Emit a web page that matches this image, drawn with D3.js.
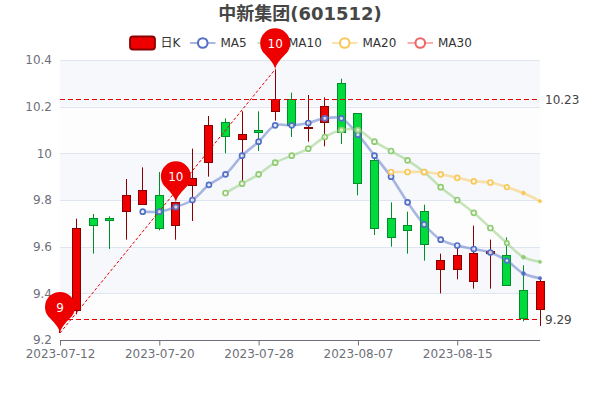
<!DOCTYPE html>
<html><head><meta charset="utf-8">
<script src="https://cdnjs.cloudflare.com/ajax/libs/d3/7.8.5/d3.min.js"></script>
<style>html,body{margin:0;padding:0;background:#fff}svg{display:block}text{font-family:"DejaVu Sans","Noto Sans CJK SC",sans-serif}</style>
</head><body><svg id="c" width="600" height="400"></svg>
<script>
const titleText = "中新集团(601512)";
const legendNames = ["日K","MA5","MA10","MA20","MA30"];
const dates = ["2023-07-12","2023-07-13","2023-07-14","2023-07-17","2023-07-18","2023-07-19","2023-07-20","2023-07-21","2023-07-24","2023-07-25","2023-07-26","2023-07-27","2023-07-28","2023-07-31","2023-08-01","2023-08-02","2023-08-03","2023-08-04","2023-08-07","2023-08-08","2023-08-09","2023-08-10","2023-08-11","2023-08-14","2023-08-15","2023-08-16","2023-08-17","2023-08-18","2023-08-21","2023-08-22"];
const tickDates = ["2023-07-12","2023-07-20","2023-07-28","2023-08-07","2023-08-15"];
const yTicks = [9.2,9.4,9.6,9.8,10,10.2,10.4];
const opens  = [9.30,9.33,9.72,9.72,9.75,9.78,9.82,9.69,9.86,9.96,10.13,10.06,10.10,10.18,10.23,10.11,10.13,10.30,10.17,9.97,9.72,9.69,9.75,9.50,9.50,9.45,9.57,9.56,9.41,9.33];
const closes = [9.32,9.68,9.69,9.71,9.82,9.84,9.68,9.79,9.89,10.12,10.07,10.08,10.09,10.23,10.12,10.11,10.20,10.09,9.87,9.68,9.64,9.67,9.61,9.54,9.56,9.57,9.58,9.43,9.29,9.45];
const lows   = [9.23,9.31,9.57,9.59,9.63,9.78,9.67,9.63,9.71,9.90,10.00,9.88,10.01,10.14,10.07,10.05,10.03,10.04,9.82,9.65,9.60,9.57,9.54,9.40,9.46,9.42,9.42,9.43,9.28,9.26];
const highs  = [9.33,9.72,9.74,9.73,9.89,9.94,9.92,9.79,10.02,10.16,10.15,10.18,10.18,10.36,10.26,10.25,10.24,10.32,10.17,9.98,9.79,9.75,9.78,9.57,9.60,9.69,9.63,9.64,9.52,9.46];
const ma5  = [null,null,null,null,null,9.75,9.75,9.77,9.80,9.865,9.91,9.99,10.05,10.12,10.12,10.13,10.15,10.15,10.08,9.99,9.90,9.79,9.695,9.63,9.605,9.59,9.575,9.54,9.485,9.465];
const ma10 = [null,null,null,null,null,null,null,null,null,null,9.83,9.87,9.91,9.96,9.99,10.02,10.07,10.10,10.10,10.05,10.01,9.97,9.92,9.855,9.80,9.745,9.68,9.615,9.555,9.535];
const ma20 = [null,null,null,null,null,null,null,null,null,null,null,null,null,null,null,null,null,null,null,null,9.92,9.92,9.92,9.91,9.895,9.88,9.875,9.855,9.83,9.795];
const lineLevels = [10.23,9.29];
const minPin = {i:0,v:9.23,label:"9"};
const maxPin = {i:13,v:10.36,label:"10"};
const midPin = {i:7,v:9.79,label:"10"};

const svg = d3.select("#c");
const L=60,R=540,T=60,B=340;
const x = d3.scalePoint().domain(dates).range([L,R]);
const y = d3.scaleLinear().domain([9.2,10.4]).range([B,T]);
const RED="#ee0000",RED_D="#8a0000",GRN="#00da3c",GRN_D="#008f28";
const gridC="#e0e6f1",axisC="#6e7079",textC="#6e7079",MARK="#e60000";
const C5="#5470c6",C10="#91cc75",C20="#fac858",C30="#ee6666";

for(let k=0;k<yTicks.length-1;k++){
  svg.append("rect").attr("x",L).attr("width",R-L).attr("y",y(yTicks[k+1])).attr("height",y(yTicks[k])-y(yTicks[k+1]))
    .attr("fill", k%2===0 ? "#fdfdfe":"#f6f8fc");
}
svg.selectAll(".g").data(yTicks.slice(1)).join("line").attr("x1",L).attr("x2",R).attr("y1",d=>Math.round(y(d))+.5).attr("y2",d=>Math.round(y(d))+.5).attr("stroke",gridC);

const yAxis = d3.axisLeft(y).tickValues(yTicks).tickFormat(d=>d===10?"10":d3.format(".1f")(d)).tickSize(0).tickPadding(8);
const gy = svg.append("g").attr("transform",`translate(${L},0)`).call(yAxis);
gy.select(".domain").remove();
gy.selectAll("text").attr("fill",textC).style("font-size","12px");
const xAxis = d3.axisBottom(x).tickValues(tickDates).tickSize(5).tickPadding(4);
const gx = svg.append("g").attr("transform",`translate(0,${B+.5})`).call(xAxis);
gx.select(".domain").attr("stroke",axisC).attr("d",`M${L},0H${R}`);
gx.selectAll("line").attr("stroke",axisC);
gx.selectAll("text").attr("fill",textC).style("font-size","12px");

// legend
const lg=svg.append("g");
const legLeft=[129.5,190,257.5,332,407.5];
const legC=[RED,C5,C10,C20,C30];
legendNames.forEach((n,i)=>{
  const X=legLeft[i];
  if(i===0){
    lg.append("rect").attr("x",X+.5).attr("y",36.5).attr("width",25).attr("height",13).attr("rx",3).attr("fill",RED).attr("stroke",RED_D).attr("stroke-width",1.8);
  }else{
    lg.append("line").attr("x1",X).attr("x2",X+25.5).attr("y1",43).attr("y2",43).attr("stroke",legC[i]).attr("stroke-width",2).attr("stroke-opacity",.5);
    lg.append("circle").attr("cx",X+12.75).attr("cy",43).attr("r",4.8).attr("fill","#fff").attr("stroke",legC[i]).attr("stroke-width",2.1);
  }
  lg.append("text").attr("x",X+(i===0?31:30.5)).attr("y",47.3).text(n).attr("fill","#333").style("font-size","12px");
});

// candles
const cg=svg.append("g");
dates.forEach((d,i)=>{
  const up=closes[i]>=opens[i], px=Math.floor(x(d))+.5;
  const top=Math.max(opens[i],closes[i]),bot=Math.min(opens[i],closes[i]);
  const st=up?RED_D:GRN_D;
  cg.append("line").attr("x1",px).attr("x2",px).attr("y1",y(highs[i])).attr("y2",y(top)).attr("stroke",st);
  cg.append("line").attr("x1",px).attr("x2",px).attr("y1",y(bot)).attr("y2",y(lows[i])).attr("stroke",st);
  cg.append("rect").attr("x",px-4).attr("width",8).attr("y",Math.floor(y(top))+.5).attr("height",Math.max(Math.round(y(bot)-y(top)),1))
    .attr("fill",up?RED:GRN).attr("stroke",st);
});

// mark lines
const ml=svg.append("g");
lineLevels.forEach(v=>{
  const py=Math.floor(y(v))+.5;
  ml.append("line").attr("x1",L).attr("x2",R).attr("y1",py).attr("y2",py).attr("stroke",MARK).attr("stroke-dasharray","5 3").attr("stroke-width",1);
  ml.append("text").attr("x",R+5).attr("y",py+4.5).text(d3.format(".2f")(v)).attr("fill","#444").style("font-size","12px");
});
ml.append("line").attr("x1",x(dates[minPin.i])).attr("y1",y(minPin.v)).attr("x2",x(dates[maxPin.i])).attr("y2",y(maxPin.v)).attr("stroke",MARK).attr("stroke-dasharray","3 2").attr("stroke-width",1);

// pins
function pin(p){
  const px=x(dates[p.i]),py=y(p.v),r=15,d=26;
  const cy=py-d, ang=40*Math.PI/180, dx=r*Math.cos(ang), dy=r*Math.sin(ang);
  const path=`M${px},${py}C${px-1},${py-6} ${px-dx+4},${cy+dy+4} ${px-dx},${cy+dy}A${r},${r} 0 1 1 ${px+dx},${cy+dy}C${px+dx-4},${cy+dy+4} ${px+1},${py-6} ${px},${py}Z`;
  svg.append("path").attr("d",path).attr("fill",RED);
  svg.append("text").attr("x",px).attr("y",cy+4.5).attr("text-anchor","middle").text(p.label).attr("fill","#fff").style("font-size","12px");
}
[minPin,midPin,maxPin].forEach(pin);

// MA lines
const series=[[ma5,C5],[ma10,C10],[ma20,C20]];
const line=d3.line().defined(d=>d!=null).x((d,i)=>x(dates[i])).y(d=>y(d)).curve(d3.curveCatmullRom.alpha(.5));
series.forEach(([vals,c])=>{
  svg.append("path").attr("d",line(vals)).attr("fill","none").attr("stroke",c).attr("stroke-width",2.6).attr("stroke-opacity",.5);
  const n=vals.length;
  vals.forEach((v,i)=>{
    if(v==null)return;
    const e=n-1-i;
    const r=e===0?1.7:e===1?2:e===2?2.2:2.5;
    svg.append("circle").attr("cx",x(dates[i])).attr("cy",y(v)).attr("r",r).attr("fill",e<2?c:"#fff").attr("fill-opacity",e<2?1:.75).attr("stroke",c).attr("stroke-width",e<2?.5:1.7);
  });
});

svg.append("text").attr("x",300).attr("y",20).attr("text-anchor","middle").text(titleText).attr("fill","#464646").style("font-size","18px").style("font-weight","bold");
</script></body></html>
